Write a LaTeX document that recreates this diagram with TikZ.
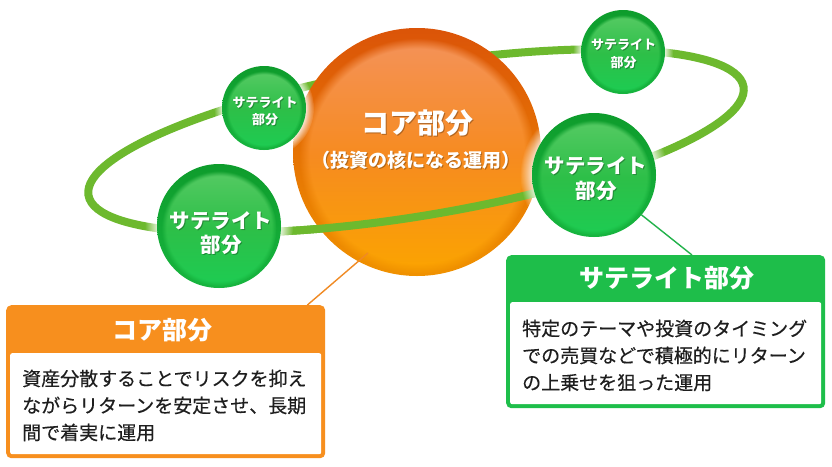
\documentclass[tikz,border=0pt]{standalone}
\usepackage{fontspec}
\newfontfamily\jp{Noto Sans CJK JP}
\newfontfamily\jpm{Noto Sans CJK JP}[FakeBold=0.35]
\usetikzlibrary{fadings}
\definecolor{ringg}{HTML}{6DB92E}
\definecolor{ohead}{HTML}{F78F1E}
\definecolor{ghead}{HTML}{1EBE4A}
\definecolor{olinec}{HTML}{F08A24}
\definecolor{glinec}{HTML}{22B24A}
\definecolor{otop}{HTML}{F49259}
\definecolor{omid}{HTML}{F68B20}
\definecolor{obot}{HTML}{FBA400}
\definecolor{orimtop}{HTML}{DB5408}
\definecolor{orimbot}{HTML}{F09200}
\definecolor{gtop}{HTML}{55CA63}
\definecolor{gmid}{HTML}{2DBF48}
\definecolor{gbot}{HTML}{1DCC52}
\definecolor{grimtop}{HTML}{0E9C2C}
\definecolor{grimbot}{HTML}{17B53F}
\definecolor{bodyink}{HTML}{1E1E1E}
\colorlet{fadeblk}{black}
\pgfdeclareradialshading{discshade}{\pgfpointorigin}{color(0bp)=(fadeblk!0); color(22.8bp)=(fadeblk!0); color(25bp)=(fadeblk!100); color(50bp)=(fadeblk!100)}
\pgfdeclarefading{discfade}{\pgfuseshading{discshade}}
\pgfdeclareradialshading{haloshade}{\pgfpointorigin}{color(0bp)=(fadeblk!0); color(20.5bp)=(fadeblk!15); color(25bp)=(fadeblk!100); color(50bp)=(fadeblk!100)}
\pgfdeclarefading{halofade}{\pgfuseshading{haloshade}}
\tikzset{
  ringline/.style={draw=ringg, line width=8pt},
  coreball/.style={circle, inner sep=0pt, minimum size=248pt, top color=orimtop, bottom color=orimbot},
  coreface/.style={top color=otop, bottom color=obot, middle color=omid, path fading=discfade},
  satball/.style={circle, inner sep=0pt, top color=grimtop, bottom color=grimbot},
  satface/.style={top color=gtop, bottom color=gbot, middle color=gmid, path fading=discfade},
  halo/.style={white, path fading=halofade},
  coretitle/.style={font=\jp\bfseries\fontsize{28}{28}\selectfont, text=white, inner sep=0pt},
  coresub/.style={font=\jp\bfseries\fontsize{19}{19}\selectfont, text=white, inner sep=0pt},
  satbig/.style={font=\jp\bfseries\fontsize{20.5}{24.5}\selectfont, text=white, align=center, inner sep=0pt},
  satsmall/.style={font=\jp\bfseries\fontsize{13}{17.5}\selectfont, text=white, align=center, inner sep=0pt},
  tshadow/.style={text=black, text opacity=0.28},
  boxframe/.style={anchor=north west, inner sep=0pt, rounded corners=5pt, minimum width=319pt, minimum height=153pt},
  boxbody/.style={anchor=north west, inner sep=0pt, rounded corners=2pt, fill=white, minimum width=311pt},
  headtxt/.style={font=\jp\bfseries\fontsize{25}{25}\selectfont, text=white, inner sep=0pt},
  bodytxt/.style={font=\jpm\fontsize{19}{27}\selectfont, text=bodyink, align=left, inner sep=0pt, anchor=north west},
  oconn/.style={draw=olinec, line width=1.4pt},
  gconn/.style={draw=glinec, line width=1.4pt}
}
\begin{document}
\begin{tikzpicture}[x=1pt,y=-1pt]
\useasboundingbox (0,0) rectangle (832,466);
\fill[white] (0,0) rectangle (832,466);
% orbit (back)
\begin{scope}[shift={(416,141)}, rotate=9.4]
  \draw[ringline] (0,0) ellipse [x radius=332, y radius=75];
\end{scope}
% core ball
\node[coreball] (core) at (417,152) {};
\shade[coreface] ([yshift=-4pt]core.center) circle (117.5);
% orbit (front part over the core)
\begin{scope}
  \clip (280,140) rectangle (560,300);
  \begin{scope}[shift={(416,141)}, rotate=9.4]
    \draw[ringline] (0,0) ellipse [x radius=332, y radius=75];
  \end{scope}
\end{scope}
% halos
\fill[halo] (264,108) circle (50);
\fill[halo] (623,52) circle (50);
\fill[halo] (219,226) circle (74);
\fill[halo] (594,175) circle (74);
% satellites
\node[satball, minimum size=84pt] (sa) at (264,108) {};
\shade[satface] ([yshift=-1.5pt]sa.center) circle (38.5);
\node[satball, minimum size=84pt] (sb) at (623,52) {};
\shade[satface] ([yshift=-1.5pt]sb.center) circle (38.5);
\node[satball, minimum size=124pt] (sc) at (219,226) {};
\shade[satface] ([yshift=-2.5pt]sc.center) circle (57.5);
\node[satball, minimum size=124pt] (sd) at (594,175) {};
\shade[satface] ([yshift=-2.5pt]sd.center) circle (57.5);
% texts in balls
\node[coretitle, tshadow] (ct0) at (418.8,124.2) {コア部分};
\node[coretitle] (ct) at (417.5,123) {コア部分};
\node[coresub, tshadow] (cs0) at (417,161) {（投資の核になる運用）};
\node[coresub] (cs) at (416,160) {（投資の核になる運用）};
\node[satsmall, tshadow] (ta0) at (266,112.5) {サテライト\\部分};
\node[satsmall] (ta) at (265,111.5) {サテライト\\部分};
\node[satsmall, tshadow] (tb0) at (624.5,55) {サテライト\\部分};
\node[satsmall] (tb) at (623.5,54) {サテライト\\部分};
\node[satbig, tshadow] (tc0) at (222,234) {サテライト\\部分};
\node[satbig] (tc) at (221,233) {サテライト\\部分};
\node[satbig, tshadow] (td0) at (597,179.5) {サテライト\\部分};
\node[satbig] (td) at (596,178.5) {サテライト\\部分};
% core explanation box
\node[boxframe, fill=ohead] (cbox) at (6,305) {};
\node[boxbody, minimum height=101pt] (cbody) at (10,353) {};
\node[headtxt] (chead) at (162,330) {コア部分};
\node[bodytxt] (ctext) at (22,369.5) {資産分散することでリスクを抑え\\ながらリターンを安定させ、長期\\間で着実に運用};
% satellite explanation box
\node[boxframe, fill=ghead] (gbox) at (506,255) {};
\node[boxbody, minimum height=102pt] (gbody) at (510,302) {};
\node[headtxt] (ghd) at (667,278) {サテライト部分};
\node[bodytxt] (gtext) at (522,319.5) {特定のテーマや投資のタイミング\\での売買などで積極的にリターン\\の上乗せを狙った運用};
% connectors
\coordinate (ctip) at (368,253);
\draw[oconn] ([xshift=-18pt]cbox.north east) -- (ctip);
\draw[gconn] (sd.-40) -- ([xshift=186pt]gbox.north west);
\end{tikzpicture}
\end{document}
